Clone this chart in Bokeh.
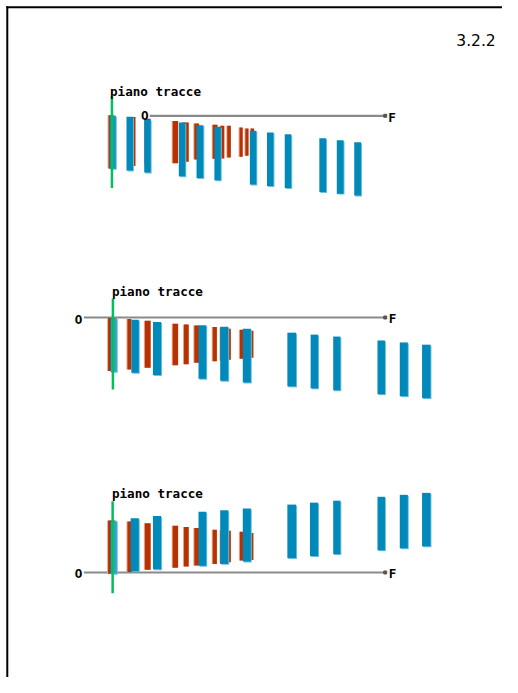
from bokeh.plotting import figure
from bokeh.models import Range1d
from bokeh.embed import file_html
from bokeh.resources import INLINE
from bokeh.core.properties import value

# ---------------- data ----------------
# Panel 1 (top)
p1_red_left   = [111.5, 133.5, 149.0, 177.7, 188.0, 200.0, 219.0, 227.0, 234.0, 246.7, 252.7, 258.3]
p1_red_right  = [117.0, 139.3, 155.0, 183.3, 194.3, 205.0, 224.0, 231.0, 237.7, 250.0, 256.0, 261.7]
p1_red_top    = [117.5, 119.3, 121.0, 123.3, 125.0, 126.0, 127.3, 128.3, 128.3, 130.0, 131.0, 131.0]
p1_red_bottom = [172.0, 169.5, 168.0, 166.7, 165.0, 162.7, 162.0, 161.7, 160.7, 160.0, 159.0, 158.5]
p1_blue_left   = [112.5, 130.0, 148.3, 184.0, 202.3, 220.7, 257.3, 275.0, 293.3, 329.0, 347.0, 365.0]
p1_blue_right  = [119.0, 136.7, 155.0, 190.7, 209.3, 227.3, 264.0, 281.7, 300.0, 336.0, 354.0, 372.0]
p1_blue_top    = [117.7, 119.0, 122.0, 125.0, 127.7, 129.3, 133.3, 135.0, 137.0, 141.0, 143.0, 145.0]
p1_blue_bottom = [172.3, 174.0, 176.0, 180.0, 181.7, 184.0, 188.3, 190.0, 192.0, 196.0, 197.7, 199.7]

# Panel 2 (middle)
p2_red_left   = [111.0, 131.0, 149.0, 177.7, 189.3, 200.0, 219.0, 227.0, 234.0, 247.0, 252.7, 257.7]
p2_red_right  = [118.0, 135.0, 155.0, 183.3, 194.3, 205.0, 223.3, 231.0, 237.7, 250.7, 256.0, 261.0]
p2_red_top    = [325.0, 326.0, 327.7, 331.0, 331.7, 332.7, 334.3, 335.0, 336.0, 337.0, 337.5, 338.0]
p2_red_bottom = [379.3, 377.7, 376.0, 373.3, 372.3, 370.7, 369.3, 368.5, 367.7, 366.7, 366.0, 365.7]
p2_blue_left   = [113.0, 135.0, 157.3, 204.3, 226.7, 250.0, 296.0, 320.0, 343.3, 389.0, 412.0, 435.0]
p2_blue_right  = [120.0, 142.7, 165.7, 212.3, 235.0, 258.3, 305.0, 327.7, 350.7, 396.7, 420.3, 443.7]
p2_blue_top    = [325.0, 326.7, 329.0, 332.3, 334.0, 336.0, 340.0, 342.0, 344.0, 348.0, 350.0, 352.3]
p2_blue_bottom = [380.0, 381.0, 383.3, 387.3, 389.3, 391.0, 395.0, 397.0, 399.0, 403.0, 405.0, 407.0]

# Panel 3 (bottom)
p3_red_left   = [111.0, 131.0, 149.0, 177.7, 189.3, 200.0, 219.0, 227.0, 234.0, 247.0, 252.7, 257.7]
p3_red_right  = [118.0, 135.7, 155.0, 183.3, 194.3, 205.0, 223.3, 231.0, 237.7, 250.7, 256.0, 261.0]
p3_red_top    = [532.3, 533.3, 535.0, 537.7, 539.0, 540.0, 541.7, 542.3, 542.7, 543.7, 544.3, 545.0]
p3_red_bottom = [586.7, 585.0, 582.7, 580.7, 579.3, 578.3, 576.7, 576.0, 575.0, 573.3, 573.0, 572.7]
p3_blue_left   = [113.0, 134.3, 157.3, 204.3, 226.7, 250.0, 296.0, 319.3, 343.3, 389.0, 412.0, 435.0]
p3_blue_right  = [120.0, 142.7, 165.7, 212.3, 235.0, 258.3, 305.0, 327.7, 350.7, 396.7, 420.3, 443.7]
p3_blue_top    = [532.3, 530.0, 527.7, 523.3, 521.7, 520.0, 516.0, 514.0, 512.0, 508.0, 506.0, 504.0]
p3_blue_bottom = [586.7, 584.3, 582.3, 578.7, 576.7, 574.3, 570.7, 568.7, 566.7, 562.7, 560.7, 558.7]

# ground lines (O -> F)
line_x0 = [154.0, 86.0, 86.0]
line_x1 = [397.0, 397.0, 397.0]
line_y  = [118.0, 324.5, 585.5]

# "piano tracce" vertical traces
trace_x  = [115.0, 116.0, 115.7]
trace_y0 = [98.0, 305.0, 512.7]
trace_y1 = [192.0, 398.3, 606.7]

# labels
label_text = ["piano tracce", "piano tracce", "piano tracce", "O", "O", "O", "F", "F", "F"]
label_x    = [113.0, 115.0, 115.0, 145.0, 76.5, 76.5, 400.0, 400.5, 400.5]
label_y    = [93.0, 297.5, 505.0, 118.0, 326.7, 586.7, 120.0, 326.0, 586.7]
title_text = "3.2.2"

# ---------------- drawing ----------------
RED = "#b83100"
RED_EDGE = "#e8a890"
BLUE = "#0089b9"
BLUE_EDGE = "#70c0dc"
GREEN = "#00bf5f"

p = figure(width=502, height=677, output_backend="svg", toolbar_location=None,
           x_range=Range1d(0, 518), y_range=Range1d(693, 0),
           min_border=0, background_fill_color="white", border_fill_color="white")
p.axis.visible = False
p.grid.visible = False
p.outline_line_color = None

# frame (top and left edges)
p.segment(x0=[6, 7], y0=[7, 6], x1=[518, 7], y1=[7, 693], line_color="black", line_width=2)

panels = [
    (p1_red_left, p1_red_right, p1_red_top, p1_red_bottom,
     p1_blue_left, p1_blue_right, p1_blue_top, p1_blue_bottom, 0.8),
    (p2_red_left, p2_red_right, p2_red_top, p2_red_bottom,
     p2_blue_left, p2_blue_right, p2_blue_top, p2_blue_bottom, 0.55),
    (p3_red_left, p3_red_right, p3_red_top, p3_red_bottom,
     p3_blue_left, p3_blue_right, p3_blue_top, p3_blue_bottom, 0.55),
]

# ground lines
p.segment(x0=line_x0, y0=line_y, x1=line_x1, y1=line_y, line_color="#8a8a8a", line_width=2.2)
p.scatter(x=line_x1, y=line_y, marker="square", size=3, color="#555555")

for (rl, rr, rt, rb, bl, br, bt, bb, first_alpha) in panels:
    p.quad(left=[v - 1 for v in rl], right=[v - 1 for v in rr], top=rt, bottom=rb,
           fill_color=RED_EDGE, line_color=None)
    p.quad(left=rl, right=rr, top=rt, bottom=rb, fill_color=RED, line_color=None)
    p.quad(left=[v + 1 for v in bl], right=[v + 1 for v in br],
           top=[v + 1 for v in bt], bottom=[v + 1 for v in bb],
           fill_color=BLUE_EDGE, line_color=None)
    alphas = [first_alpha] + [1.0] * (len(bl) - 1)
    p.quad(left=bl, right=br, top=bt, bottom=bb, fill_color=BLUE, fill_alpha=alphas,
           line_color=None)

# green traces
p.segment(x0=trace_x, y0=trace_y0, x1=trace_x, y1=trace_y1, line_color=GREEN, line_width=2.5)

# labels
p.text(x=label_x, y=label_y, text=label_text, text_font=value("DejaVu Sans Mono"),
       text_font_style="bold", text_font_size="12.6px", text_baseline="alphabetic",
       text_align="left", text_color="black")
p.text(x=[511], y=[40], text=[title_text], text_font=value("DejaVu Sans"),
       text_font_size="15.5px", text_baseline="alphabetic", text_align="right",
       text_color="black")

open("out.html", "w").write(file_html(p, INLINE))
